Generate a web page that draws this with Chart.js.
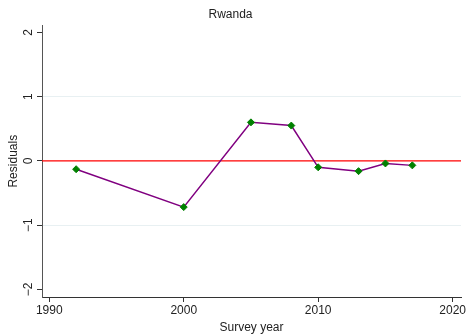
<!DOCTYPE html>
<html>
<head>
<meta charset="utf-8">
<script src="https://cdn.jsdelivr.net/npm/chart.js@4/dist/chart.umd.min.js"></script>
<style>
  html, body { margin: 0; padding: 0; background: #ffffff; }
  #wrap { width: 470px; height: 335px; }
</style>
</head>
<body>
<div id="wrap"><canvas id="c" width="470" height="335"></canvas></div>
<script>
const titleText = "Rwanda";
const surveyYears = [1992, 2000, 2005, 2008, 2010, 2013, 2015, 2017];
const residuals = [-0.13, -0.72, 0.60, 0.55, -0.10, -0.16, -0.04, -0.07];
const xTickValues = [1990, 2000, 2010, 2020];
const yTickValues = [-2, -1, 0, 1, 2];
const referenceValue = 0;
const xAxisTitle = "Survey year";
const yAxisTitle = "Residuals";

const FONT = "'Liberation Sans', Arial, Helvetica, sans-serif";

const refLinePlugin = {
  id: 'refLine',
  beforeDatasetsDraw(chart) {
    const { ctx, chartArea, scales } = chart;
    const y = scales.y.getPixelForValue(referenceValue);
    ctx.save();
    ctx.strokeStyle = '#ff0000';
    ctx.lineWidth = 1.2;
    ctx.beginPath();
    ctx.moveTo(chartArea.left, y);
    ctx.lineTo(chartArea.right, y);
    ctx.stroke();
    ctx.restore();
  }
};

const yLabelPlugin = {
  id: 'yLabels',
  afterDraw(chart) {
    const { ctx, scales } = chart;
    const ys = scales.y;
    ctx.save();
    ctx.fillStyle = '#222222';
    ctx.font = '12px ' + FONT;
    ctx.textAlign = 'center';
    ctx.textBaseline = 'middle';
    yTickValues.forEach(v => {
      const py = ys.getPixelForValue(v);
      ctx.save();
      ctx.translate(ys.right - 13, py);
      ctx.rotate(-Math.PI / 2);
      ctx.fillText(v < 0 ? '\u2212' + Math.abs(v) : String(v), 0, 0);
      ctx.restore();
    });
    ctx.restore();
  }
};

new Chart(document.getElementById('c'), {
  type: 'line',
  data: {
    datasets: [{
      data: surveyYears.map((yr, i) => ({ x: yr, y: residuals[i] })),
      borderColor: '#800080',
      borderWidth: 1.5,
      backgroundColor: '#008000',
      pointBackgroundColor: '#008000',
      pointBorderColor: '#008000',
      pointStyle: 'rectRot',
      pointRadius: 3.5,
      pointBorderWidth: 1,
      tension: 0,
      fill: false
    }]
  },
  options: {
    responsive: false,
    animation: false,
    devicePixelRatio: 1,
    layout: { padding: { left: 0, right: 9, top: 0, bottom: 0 } },
    plugins: {
      legend: { display: false },
      tooltip: { enabled: false },
      title: {
        display: true,
        text: titleText,
        color: '#222222',
        font: { family: FONT, size: 12, weight: 'normal' },
        padding: { top: 7, bottom: 4 }
      }
    },
    scales: {
      x: {
        type: 'linear',
        min: 1989.46,
        max: 2020.62,
        afterBuildTicks(scale) { scale.ticks = xTickValues.map(v => ({ value: v })); },
        afterFit(scale) { scale.height = 38; },
        ticks: {
          color: '#222222',
          font: { family: FONT, size: 12 },
          padding: 1,
          maxRotation: 0,
          autoSkip: false,
          callback: v => String(v)
        },
        grid: {
          display: true,
          drawOnChartArea: false,
          drawTicks: true,
          tickLength: 5,
          tickColor: '#333333',
          tickWidth: 1
        },
        border: { display: true, color: '#333333', width: 1 },
        title: {
          display: true,
          text: xAxisTitle,
          color: '#222222',
          font: { family: FONT, size: 12 },
          padding: { top: 6, bottom: 0 }
        }
      },
      y: {
        type: 'linear',
        min: -2.12,
        max: 2.11,
        afterBuildTicks(scale) { scale.ticks = yTickValues.map(v => ({ value: v })); },
        afterFit(scale) { scale.width = 42; },
        ticks: {
          display: false,
          callback: v => String(v)
        },
        grid: {
          display: true,
          drawOnChartArea: true,
          drawTicks: true,
          tickLength: 5,
          tickColor: '#333333',
          color: ctx => (ctx.tick && (ctx.tick.value === 1 || ctx.tick.value === -1)) ? '#e8f0f2' : 'rgba(0,0,0,0)',
          lineWidth: 1
        },
        border: { display: true, color: '#555555', width: 1 },
        title: {
          display: true,
          text: yAxisTitle,
          color: '#222222',
          font: { family: FONT, size: 12 },
          padding: { top: 6, bottom: 0 }
        }
      }
    }
  },
  plugins: [refLinePlugin, yLabelPlugin]
});
</script>
</body>
</html>
